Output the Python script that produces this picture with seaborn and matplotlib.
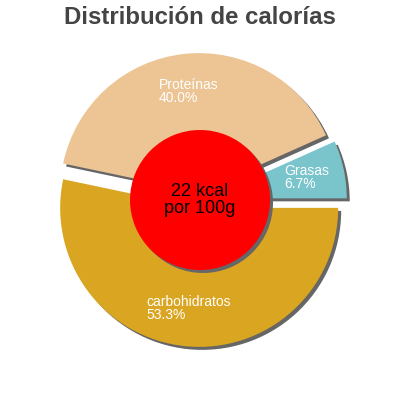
import matplotlib
matplotlib.use("Agg")
import matplotlib.pyplot as plt
import seaborn as sns

# Data
categories = ["carbohidratos", "Proteínas", "Grasas"]
percentages = [53.3, 40.0, 6.7]
colors = ["#DAA520", "#EDC493", "#7AC4CC"]
center_text = "22 kcal\npor 100g"
title = "Distribución de calorías"

sns.set_theme(style="white")
plt.rcParams['font.family'] = ['Liberation Sans', 'DejaVu Sans']

fig = plt.figure(figsize=(4, 4), dpi=100)
ax = fig.add_axes([0, 0, 1, 1])
scale = 139.0  # px per data unit

explode = [0.057] * len(percentages)
sh = 3 / scale
shadow = "#666666"
wp = dict(linewidth=0, edgecolor='none')

# shadow of wedges
ax.pie(percentages, explode=explode, startangle=0, counterclock=False,
       colors=[shadow] * len(percentages), center=(sh, -sh), radius=1.0,
       frame=True, wedgeprops=wp)

labels = [f"{c}\n{p:.1f}%" for c, p in zip(categories, percentages)]
wedges, texts = ax.pie(percentages, explode=explode, startangle=0, counterclock=False,
                       colors=colors, labels=labels, labeldistance=0.73,
                       radius=1.0, frame=True, wedgeprops=wp,
                       textprops=dict(color="white", fontsize=10, linespacing=0.92))
for t in texts:
    t.set_horizontalalignment('center')
    t.set_verticalalignment('center')
    t.set_multialignment('left')

# centre circle with shadow
ax.pie([1], colors=[shadow], radius=70 / scale, center=(sh, -sh), frame=True,
       wedgeprops=wp)
ax.pie([1], colors=["#FF0000"], radius=70 / scale, frame=True, wedgeprops=wp)
ax.text(0, 0, center_text, ha='center', va='center', fontsize=13,
        color='black', linespacing=0.95)

ax.set_xlim(-200 / scale, 200 / scale)
ax.set_ylim(-200 / scale, 200 / scale)
ax.set_aspect('equal')
ax.axis('off')

fig.text(0.5, 1 - 18 / 400, title, ha='center', va='center', fontsize=17.3,
         fontweight='bold', color='#444444')

fig.savefig("out.png", dpi=100)
